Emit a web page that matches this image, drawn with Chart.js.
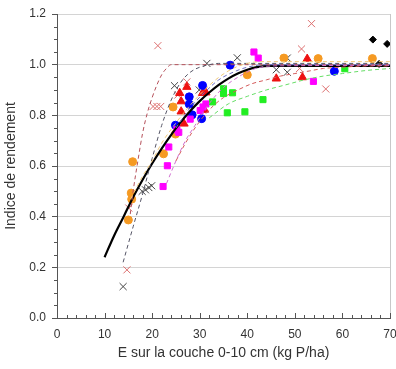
<!DOCTYPE html>
<html>
<head>
<meta charset="utf-8">
<script src="https://cdn.jsdelivr.net/npm/chart.js@4.4.0/dist/chart.umd.min.js"></script>
<style>
  html, body { margin: 0; padding: 0; background: #fff; }
  #wrap { width: 396px; height: 369px; }
</style>
</head>
<body>
<div id="wrap"><canvas id="chart" width="396" height="369"></canvas></div>
<script>
// observed points [E (kg P/ha), yield index]
const orangeCircles = [[15.9, 0.617], [15.6, 0.493], [15.7, 0.469], [15.0, 0.387], [22.4, 0.648], [24.4, 0.833],
    [24.9, 0.726], [40.0, 0.96], [47.7, 1.026], [54.9, 1.024], [66.3, 1.024]];
const blueCircles = [[24.9, 0.761], [27.8, 0.873], [27.8, 0.844], [28.4, 0.802], [30.6, 0.918], [30.4, 0.787],
    [36.4, 0.998], [58.3, 0.974]];
const redTriangles = [[25.8, 0.888], [26.1, 0.855], [26.1, 0.815], [26.7, 0.767], [27.3, 0.912], [30.4, 0.822],
    [31.0, 0.822], [30.6, 0.888], [31.3, 0.89], [46.1, 0.945], [51.6, 0.95], [52.6, 1.023]];
const magentaSquares = [[22.3, 0.519], [23.2, 0.601], [23.5, 0.675], [25.2, 0.743], [25.6, 0.733], [28.0, 0.785],
    [30.1, 0.819], [30.7, 0.833], [31.3, 0.845], [41.4, 1.05], [42.3, 1.026], [53.9, 0.934]];
const greenSquares = [[32.7, 0.853], [35.0, 0.905], [35.0, 0.886], [36.9, 0.889], [35.8, 0.81], [39.5, 0.814],
    [43.3, 0.862], [60.5, 0.984]];
const greyCrosses = [[13.9, 0.124], [17.9, 0.5], [18.6, 0.506], [19.3, 0.515], [19.9, 0.522], [24.7, 0.917],
    [29.9, 0.9], [31.5, 1.005], [37.9, 1.027], [46.1, 0.98], [48.4, 0.97], [48.4, 1.026]];
const roseCrosses = [[14.7, 0.19], [15.1, 0.434], [20.2, 0.835], [21.0, 0.835], [21.8, 0.835], [21.2, 1.075],
    [25.4, 0.88], [27.3, 0.932], [51.0, 0.985], [51.4, 1.062], [53.5, 1.162], [56.5, 0.904]];
const blackDiamonds = [[66.4, 1.099], [69.4, 1.082], [67.7, 1.003]];

// fitted response curves
const overallFit = [[10, 0.24], [12, 0.325], [14, 0.40], [16, 0.477], [18, 0.546], [20, 0.61], [22, 0.669],
    [24, 0.723], [26, 0.773], [28, 0.817], [30, 0.856], [32, 0.89], [34, 0.92], [36, 0.945], [38, 0.965],
    [40, 0.98], [42, 0.99], [45, 0.995], [70, 0.995]];
const roseFit = [[15.4, 0.41], [16, 0.5], [17, 0.62], [18, 0.73], [19, 0.81], [20, 0.87], [21, 0.92],
    [22, 0.96], [23, 0.985], [24, 1.0], [70, 1.0]];
const greyFit = [[13.9, 0.22], [16, 0.36], [18, 0.49], [20, 0.63], [22, 0.76], [24, 0.86], [26, 0.93],
    [28, 0.97], [30, 0.99], [32, 1.0], [34, 1.005], [70, 1.005]];
const orangeFit = [[15.5, 0.47], [18, 0.56], [20, 0.62], [22, 0.69], [25, 0.77], [28, 0.84], [31, 0.9],
    [34, 0.95], [37, 0.985], [40, 1.005], [43, 1.012], [70, 1.012]];
const blueFit = [[25, 0.75], [28, 0.83], [31, 0.89], [34, 0.94], [37, 0.97], [40, 0.99], [44, 1.0], [70, 1.0]];
const magentaFit = [[23, 0.53], [25, 0.62], [27, 0.7], [29, 0.76], [31, 0.82], [33, 0.87], [35, 0.91],
    [38, 0.95], [41, 0.98], [45, 0.995], [70, 0.997]];
const redFit = [[25, 0.62], [27, 0.69], [29, 0.75], [31, 0.8], [33, 0.84], [35, 0.87], [38, 0.9], [41, 0.925],
    [44, 0.94], [47, 0.955], [50, 0.965], [53, 0.975], [56, 0.985], [60, 0.99], [65, 0.995], [70, 0.995]];
const greenFit = [[32, 0.79], [36, 0.845], [40, 0.875], [44, 0.9], [48, 0.92], [52, 0.94], [56, 0.955],
    [60, 0.965], [65, 0.977], [70, 0.985]];

const xTicks = [0, 10, 20, 30, 40, 50, 60, 70];
const yTicks = [0, 0.2, 0.4, 0.6, 0.8, 1.0, 1.2];

const toXY = arr => arr.map(p => ({ x: p[0], y: p[1] }));

function markers(data, style, color, radius, extra) {
    return Object.assign({
        type: 'scatter',
        data: toXY(data),
        pointStyle: style,
        pointRadius: radius,
        pointHoverRadius: radius,
        backgroundColor: color,
        borderColor: color,
        borderWidth: 1,
        order: 2
    }, extra || {});
}

function curve(data, color, width, dash) {
    return {
        type: 'line',
        data: toXY(data),
        borderColor: color,
        borderWidth: width,
        borderDash: dash,
        pointRadius: 0,
        fill: false,
        cubicInterpolationMode: 'monotone',
        order: 1
    };
}

// minor ticks, inside x ticks and the light frame on the right
const frame = {
    id: 'frame',
    afterDraw(chart) {
        const { ctx, chartArea: a, scales: { x, y } } = chart;
        ctx.save();
        ctx.strokeStyle = '#c8c8c8';
        ctx.lineWidth = 1;
        ctx.beginPath();
        ctx.moveTo(a.right + 0.5, a.top);
        ctx.lineTo(a.right + 0.5, a.bottom);
        ctx.stroke();

        ctx.strokeStyle = '#555';
        ctx.beginPath();
        for (let i = 0; i <= 24; i++) {
            if (i % 4 === 0) continue;
            const py = Math.round(y.getPixelForValue(i * 0.05)) + 0.5;
            ctx.moveTo(a.left - 3, py);
            ctx.lineTo(a.left, py);
        }
        for (let i = 0; i <= 35; i++) {
            const px = Math.round(x.getPixelForValue(i * 2)) + 0.5;
            const len = i % 5 === 0 ? 5 : 3;
            ctx.moveTo(px, a.bottom);
            ctx.lineTo(px, a.bottom - len);
        }
        ctx.stroke();
        ctx.restore();
    }
};

Chart.defaults.font.family = '"Liberation Sans", Arial, sans-serif';
Chart.defaults.color = '#333';

new Chart(document.getElementById('chart'), {
    data: {
        datasets: [
            curve(greenFit, '#66dd66', 1, [4, 3]),
            curve(redFit, '#d45a5a', 1, [4, 3]),
            curve(magentaFit, '#d070d0', 1, [4, 3]),
            curve(blueFit, '#7070c0', 1, [4, 3]),
            curve(orangeFit, '#f0c878', 1, [4, 3]),
            curve(greyFit, '#555566', 1, [4, 3]),
            curve(roseFit, '#b5505a', 1, [4, 3]),
            curve(overallFit, '#000', 2.2, []),
            markers(greenSquares, 'rect', '#22ee22', 4.3),
            markers(magentaSquares, 'rect', '#ff00ff', 4.3),
            markers(orangeCircles, 'circle', '#f59a23', 4),
            markers(blueCircles, 'circle', '#0000ff', 4),
            markers(redTriangles, 'triangle', '#ee1111', 4.8),
            markers(greyCrosses, 'crossRot', '#444', 5, { borderWidth: 1 }),
            markers(roseCrosses, 'crossRot', '#dd7070', 5, { borderWidth: 1 }),
            markers(blackDiamonds, 'rectRot', '#000', 3.5)
        ]
    },
    options: {
        responsive: false,
        animation: false,
        layout: { padding: { left: 0, right: 6, top: 14, bottom: 0 } },
        plugins: { legend: { display: false }, tooltip: { enabled: false } },
        scales: {
            x: {
                type: 'linear',
                min: 0, max: 70,
                afterBuildTicks: s => { s.ticks = xTicks.map(v => ({ value: v })); },
                afterFit: s => { s.height = 51; s.paddingLeft = 0; s.paddingRight = 0; },
                grid: { display: true, drawOnChartArea: false, drawTicks: false },
                border: { display: true, color: '#555', width: 1 },
                ticks: { padding: 9, font: { size: 12 }, color: '#333', maxRotation: 0 },
                title: { display: true, text: 'E sur la couche 0-10 cm (kg P/ha)', font: { size: 14 },
                    color: '#333', padding: { top: 4, bottom: 7 } }
            },
            y: {
                type: 'linear',
                min: 0, max: 1.2,
                afterBuildTicks: s => { s.ticks = yTicks.map(v => ({ value: v })); },
                afterFit: s => { s.width = 57; },
                grid: { color: '#d4d4d4', tickColor: '#555', tickLength: 5 },
                border: { display: true, color: '#555', width: 1 },
                ticks: { padding: 6, font: { size: 12 }, color: '#333', callback: v => v.toFixed(1) },
                title: { display: true, text: 'Indice de rendement', font: { size: 14 },
                    color: '#333', padding: { top: 3, bottom: 4 } }
            }
        }
    },
    plugins: [frame]
});
</script>
</body>
</html>
